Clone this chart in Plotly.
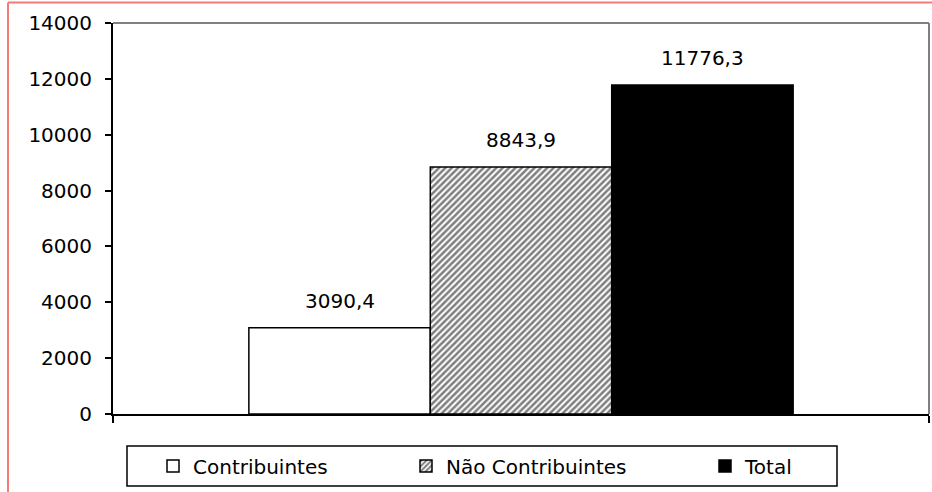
import plotly.graph_objects as go

category = ["Brasil"]
series_names = ["Contribuintes", "Não Contribuintes", "Total"]
series_values = [3090.4, 8843.9, 11776.3]
value_labels = ["3090,4", "8843,9", "11776,3"]
y_ticks = [0, 2000, 4000, 6000, 8000, 10000, 12000, 14000]

FONT = dict(family="DejaVu Sans, Verdana, sans-serif", size=20, color="black")
BARGAP = 0.333

styles = [
    dict(color="white", pattern=None),
    dict(color="white", pattern=dict(shape="/", fgcolor="black", bgcolor="white", size=4.5, solidity=0.55)),
    dict(color="black", pattern=None),
]
legend_ids = ["legend", "legend2", "legend3"]
legend_x = [153, 406, 705]  # pixel positions of each legend entry

PL, PT, PW, PH = 113, 23, 816, 391  # plot area in pixels


def px_x(p):
    return (p - PL) / PW


def px_y(p):
    return (PT + PH - p) / PH


fig = go.Figure()
for name, val, st, lid in zip(series_names, series_values, styles, legend_ids):
    marker = dict(color=st["color"], line=dict(color="black", width=1.5))
    if st["pattern"]:
        marker["pattern"] = st["pattern"]
    fig.add_trace(go.Bar(x=category, y=[val], name=name, marker=marker, legend=lid,
                         hoverinfo="skip"))

n = len(series_values)
w = (1 - BARGAP) / n
for i, (val, lab) in enumerate(zip(series_values, value_labels)):
    fig.add_annotation(x=(i - (n - 1) / 2) * w, y=val, xref="x", yref="y", text=lab,
                       showarrow=False, yanchor="bottom", yshift=13, font=FONT)

# plot area border (gray) on top and right
fig.add_shape(type="line", xref="paper", yref="paper", x0=0, x1=1, y0=1, y1=1,
              line=dict(color="#808080", width=2))
fig.add_shape(type="line", xref="paper", yref="paper", x0=1, x1=1, y0=0, y1=1,
              line=dict(color="#808080", width=2))
# outer pink frame
fig.add_shape(type="line", xref="paper", yref="paper", x0=px_x(8), x1=px_x(940), y0=px_y(2.5), y1=px_y(2.5),
              line=dict(color="#f47a7a", width=2))
fig.add_shape(type="line", xref="paper", yref="paper", x0=px_x(8), x1=px_x(8), y0=px_y(2.5), y1=px_y(500),
              line=dict(color="#f47a7a", width=2))
# legend box
fig.add_shape(type="rect", xref="paper", yref="paper", x0=px_x(127), x1=px_x(837), y0=px_y(446), y1=px_y(486),
              line=dict(color="black", width=1.5), fillcolor="rgba(0,0,0,0)")

legend_common = dict(orientation="h", xanchor="left", yanchor="middle", y=px_y(466),
                     bgcolor="rgba(0,0,0,0)", borderwidth=0, font=FONT, itemclick=False,
                     itemdoubleclick=False)

fig.update_layout(
    width=932, height=492,
    margin=dict(l=PL, r=932 - PL - PW, t=PT, b=492 - PT - PH),
    paper_bgcolor="white", plot_bgcolor="white",
    barmode="group", bargap=BARGAP, bargroupgap=0,
    font=FONT,
    showlegend=True,
    legend=dict(x=px_x(legend_x[0]), **legend_common),
    legend2=dict(x=px_x(legend_x[1]), **legend_common),
    legend3=dict(x=px_x(legend_x[2]), **legend_common),
    xaxis=dict(type="category", range=[-0.5, 0.5], showticklabels=False, showgrid=False,
               showline=True, linecolor="black", linewidth=2, ticks="outside",
               tickson="boundaries", ticklen=7, tickcolor="black", tickwidth=1.5,
               zeroline=False, fixedrange=True),
    yaxis=dict(range=[0, 14000], tickvals=y_ticks, ticktext=[str(t) for t in y_ticks],
               showgrid=False, showline=True, linecolor="black", linewidth=2,
               ticks="outside", ticklen=6, tickcolor="black", tickwidth=1.5,
               ticklabelstandoff=9, zeroline=False, fixedrange=True),
)

fig.write_html("out.html", config={"displayModeBar": False},
               post_script="document.body.style.margin='0';")
